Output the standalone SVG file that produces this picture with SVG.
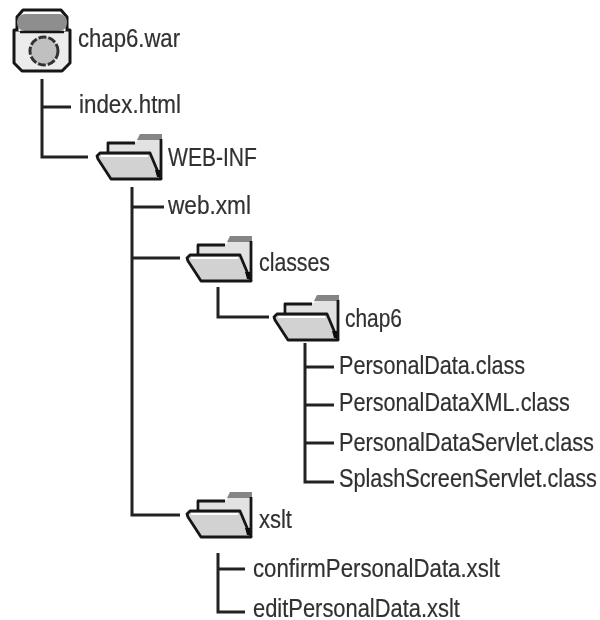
<svg xmlns="http://www.w3.org/2000/svg" xmlns:xlink="http://www.w3.org/1999/xlink" width="600" height="620" viewBox="0 0 600 620">
<style>
text{font-family:"Liberation Sans",Arial,sans-serif;font-size:25px;fill:#303030;stroke:#303030;stroke-width:.2;filter:url(#soft)}
.c{fill:none;stroke:#222;stroke-width:3}
.o{stroke:#161616;stroke-width:2.8;stroke-linejoin:round}
.f{filter:url(#soft)}
</style>
<defs>
<filter id="soft" x="-10%" y="-30%" width="120%" height="160%"><feGaussianBlur stdDeviation="0.45"/></filter>
<g id="folder" class="f">
<path d="M14 8H41L44 1H66V45H14Z" fill="#e2e2e2"/>
<path d="M41 6L44 0H66V6Z" fill="#858585"/>
<path d="M12 19V9H39" fill="none" class="o"/>
<path d="M65 5V45" fill="none" class="o"/>
<path d="M1 22L4 19H54L62 38L65 45H15L2 25Z" fill="#d2d2d2" class="o"/>
<path d="M5 22H52" fill="none" stroke="#fff" stroke-width="2"/>
<path d="M59 36H64V43H61Z" fill="#111"/>
</g>
</defs>
<rect width="600" height="620" fill="#fff"/>
<g id="connectors" class="c">
<path d="M42 79V157H88M42 107H71"/>
<path d="M132 187V515H180M132 207H164M132 258H180"/>
<path d="M218 287V317H269"/>
<path d="M305 343V482H334M305 367H334M305 405H334M305 443H334"/>
<path d="M218 553V612H245M218 569H245"/>
</g>
<g id="war">
<g class="f">
<path d="M19 30H14V63L22 71H62L70 63V30Z" fill="#ececec" stroke="#161616" stroke-width="3" stroke-linejoin="round"/>
<path d="M17 31V17L23 10H61L67 17V31" fill="#fff" stroke="#161616" stroke-width="3" stroke-linejoin="round"/>
<rect x="17" y="14" width="50" height="17" rx="8" fill="#8e8e8e"/>
<path d="M20 32H64" stroke="#161616" stroke-width="2.500"/>
<circle cx="44" cy="51" r="14" fill="#c0c0c0" stroke="#333" stroke-width="3" stroke-dasharray="8 2"/>
</g>
<text transform="translate(78 47) scale(.885 1)">chap6.war</text>
</g>
<g id="index"><text transform="translate(79 113) scale(.895 1)">index.html</text></g>
<g id="webinf"><use xlink:href="#folder" x="96" y="134"/><text transform="translate(168 166) scale(.843 1)">WEB-INF</text></g>
<g id="webxml"><text transform="translate(168 214) scale(.905 1)">web.xml</text></g>
<g id="classes"><use xlink:href="#folder" x="186" y="236"/><text transform="translate(259 271) scale(.852 1)">classes</text></g>
<g id="chap6"><use xlink:href="#folder" x="273" y="295"/><text transform="translate(345 327) scale(.837 1)">chap6</text></g>
<g id="f1"><text transform="translate(339 374) scale(.864 1)">PersonalData.class</text></g>
<g id="f2"><text transform="translate(339 411) scale(.866 1)">PersonalDataXML.class</text></g>
<g id="f3"><text transform="translate(339 451) scale(.87 1)">PersonalDataServlet.class</text></g>
<g id="f4"><text transform="translate(339 487) scale(.868 1)">SplashScreenServlet.class</text></g>
<g id="xslt"><use xlink:href="#folder" x="186" y="492"/><text transform="translate(259 528) scale(.88 1)">xslt</text></g>
<g id="f5"><text transform="translate(253 577) scale(.889 1)">confirmPersonalData.xslt</text></g>
<g id="f6"><text transform="translate(253 617) scale(.876 1)">editPersonalData.xslt</text></g>
</svg>
